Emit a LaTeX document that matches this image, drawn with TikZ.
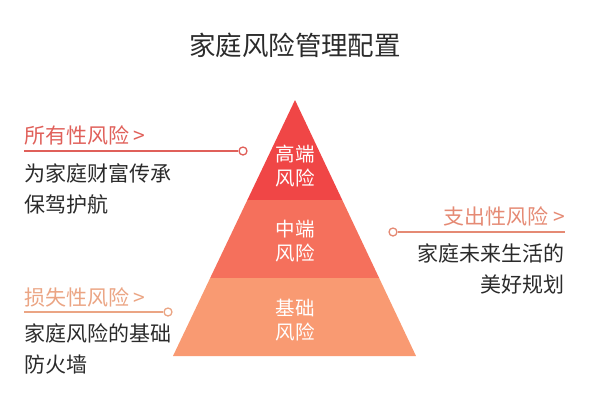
\documentclass[tikz,border=0pt]{standalone}
\usepackage{fontspec}
\setmainfont{Noto Sans CJK SC}
\usetikzlibrary{positioning,calc}
\usepackage{xcolor}
\definecolor{riskhigh}{HTML}{F04646}
\definecolor{riskmid}{HTML}{F5705C}
\definecolor{risklow}{HTML}{F99A72}
\definecolor{tagred}{HTML}{E0605A}
\definecolor{tagsalmon}{HTML}{E58A74}
\definecolor{tagpeach}{HTML}{EBA584}
\definecolor{dark}{HTML}{2B2B2B}
\tikzset{
  titletext/.style={font=\fontsize{26.5}{30}\selectfont, text=dark, inner sep=0pt},
  layertext/.style={font=\fontsize{19.5}{24}\selectfont, text=white, align=center, inner sep=0pt},
  tag/.style={font=\fontsize{21}{24}\selectfont, inner sep=0pt},
  desc/.style={font=\fontsize{21}{31}\selectfont, text=dark, inner sep=0pt},
  ring/.style={circle, draw, line width=1.3pt, fill=white, inner sep=0pt, minimum size=8pt},
  link/.style={line width=1.3pt}
}

\begin{document}
\begin{tikzpicture}[x=1pt, y=-1pt]
  \useasboundingbox (0,0) rectangle (590,400);
  \node[titletext] (title) at (295,45) {家庭风险管理配置};

  % pyramid
  \coordinate (apex) at (295,100);
  \coordinate (bl) at (173,356);
  \coordinate (br) at (416,356);
  \coordinate (ml1) at ($(apex)!0.39!(bl)$);
  \coordinate (mr1) at ($(apex)!0.39!(br)$);
  \coordinate (ml2) at ($(apex)!0.695!(bl)$);
  \coordinate (mr2) at ($(apex)!0.695!(br)$);
  \fill[risklow] (ml2) -- (mr2) -- (br) -- (bl) -- cycle;
  \fill[riskmid] (ml1) -- (mr1) -- (mr2) -- (ml2) -- cycle;
  \fill[riskhigh] (apex) -- (mr1) -- (ml1) -- cycle;
  \node[layertext] (high) at (295,166) {高端\\风险};
  \node[layertext] (mid) at (295,241) {中端\\风险};
  \node[layertext] (low) at (295,320) {基础\\风险};

  % left top
  \node[tag, text=tagred, anchor=west] (tag1) at (24,135) {所有性风险 >};
  \coordinate (s1) at (24,151);
  \node[ring, draw=tagred] (r1) at (243,151) {};
  \draw[link, tagred] (s1) -- (r1);
  \node[desc, align=left, anchor=north west] (d1) at (24,163) {为家庭财富传承\\保驾护航};

  % right
  \node[tag, text=tagsalmon, anchor=east] (tag2) at (565,216) {支出性风险 >};
  \coordinate (s2) at (565,232);
  \node[ring, draw=tagsalmon] (r2) at (393,232) {};
  \draw[link, tagsalmon] (r2) -- (s2);
  \node[desc, align=right, anchor=north east] (d2) at (565,243) {家庭未来生活的\\美好规划};

  % left bottom
  \node[tag, text=tagpeach, anchor=west] (tag3) at (24,297) {损失性风险 >};
  \coordinate (s3) at (24,312);
  \node[ring, draw=tagpeach] (r3) at (168,312) {};
  \draw[link, tagpeach] (s3) -- (r3);
  \node[desc, align=left, anchor=north west] (d3) at (24,323) {家庭风险的基础\\防火墙};
\end{tikzpicture}
\end{document}
